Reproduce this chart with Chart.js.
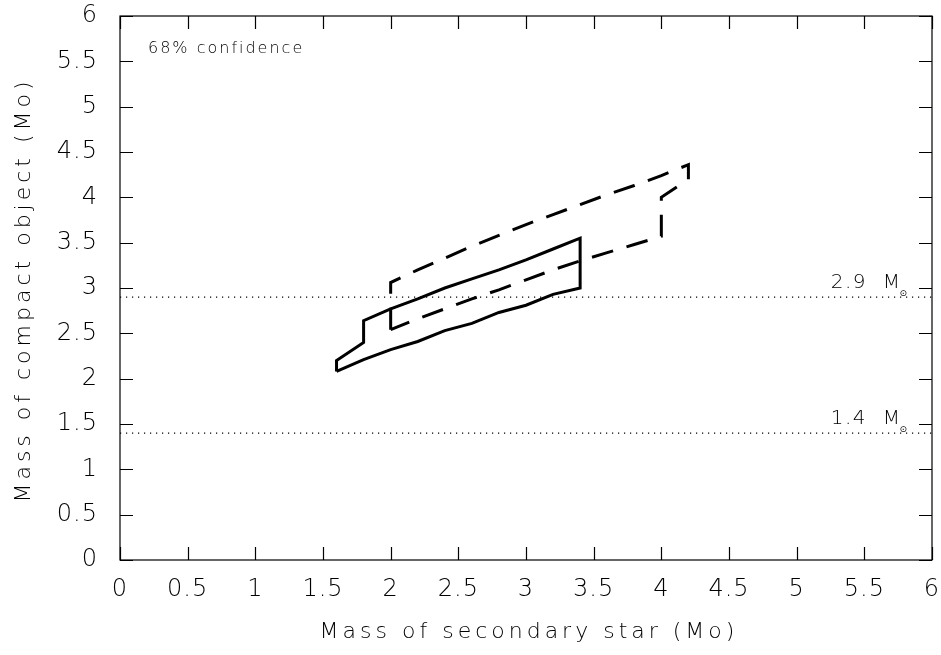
<!DOCTYPE html>
<html>
<head>
<meta charset="utf-8">
<script src="https://cdn.jsdelivr.net/npm/chart.js@4"></script>
<style>
  html, body { margin: 0; padding: 0; background: #fff; }
  #wrap { width: 941px; height: 655px; }
</style>
</head>
<body>
<div id="wrap"><canvas id="massChart"></canvas></div>
<script>
// Contour 68% (trait plein)
const solidX = [1.6, 1.6, 1.8, 1.8, 2.0, 2.2, 2.4, 2.6, 2.8, 3.0, 3.2, 3.4, 3.4, 3.2, 3.0, 2.8, 2.6, 2.4, 2.2, 2.0, 1.8, 1.6];
const solidY = [2.08, 2.2, 2.4, 2.64, 2.77, 2.88, 3.0, 3.1, 3.2, 3.31, 3.43, 3.55, 3.0, 2.93, 2.81, 2.73, 2.61, 2.53, 2.41, 2.32, 2.21, 2.08];

// Contour 68% (tirets)
const dashedX = [2.0, 2.0, 2.2, 2.4, 2.6, 2.8, 3.0, 3.2, 3.4, 3.6, 3.8, 4.0, 4.2, 4.2, 4.0, 4.0, 3.8, 3.6, 3.4, 3.2, 3.0, 2.8, 2.6, 2.4, 2.2, 2.0];
const dashedY = [2.54, 3.06, 3.2, 3.33, 3.46, 3.58, 3.7, 3.81, 3.92, 4.03, 4.13, 4.24, 4.36, 4.2, 4.0, 3.57, 3.48, 3.39, 3.3, 3.2, 3.09, 2.98, 2.88, 2.77, 2.66, 2.54];

// Limites de masse (lignes pointillées)
const refLevels = [2.9, 1.4];
const refLabels = ['2.9', '1.4'];

const xTicks = [0, 0.5, 1, 1.5, 2, 2.5, 3, 3.5, 4, 4.5, 5, 5.5, 6];
const yTicks = [0, 0.5, 1, 1.5, 2, 2.5, 3, 3.5, 4, 4.5, 5, 5.5, 6];

const xTitle = 'Mass of secondary star (Mo)';
const yTitle = 'Mass of compact object (Mo)';
const noteText = '68% confidence';

const FONT = "'DejaVu Sans', sans-serif";
const WEIGHT = '200';

function toPoints(xs, ys) {
    return xs.map((x, i) => ({x: x, y: ys[i]}));
}

// espacement des lettres pour les graduations
const spacingPlugin = {
    id: 'spacing',
    beforeLayout(chart) { chart.ctx.letterSpacing = '1px'; },
    beforeDraw(chart) { chart.ctx.letterSpacing = '1px'; }
};

// Cadre + graduations intérieures + titres + annotations
const framePlugin = {
    id: 'frame',
    afterDraw(chart) {
        const ctx = chart.ctx;
        const a = chart.chartArea;
        const xs = chart.scales.x;
        const ys = chart.scales.y;
        const len = 13;
        ctx.save();
        ctx.strokeStyle = '#000';
        ctx.lineWidth = 1.2;
        ctx.strokeRect(a.left, a.top, a.right - a.left, a.bottom - a.top);
        ctx.beginPath();
        xTicks.forEach(v => {
            const px = Math.round(xs.getPixelForValue(v)) + 0.5;
            ctx.moveTo(px, a.bottom); ctx.lineTo(px, a.bottom - len);
            ctx.moveTo(px, a.top); ctx.lineTo(px, a.top + len);
        });
        yTicks.forEach(v => {
            const py = Math.round(ys.getPixelForValue(v)) + 0.5;
            ctx.moveTo(a.left, py); ctx.lineTo(a.left + len, py);
            ctx.moveTo(a.right, py); ctx.lineTo(a.right - len, py);
        });
        ctx.stroke();

        ctx.fillStyle = '#000';
        ctx.textBaseline = 'alphabetic';

        // titres des axes
        ctx.letterSpacing = '4px';
        ctx.font = WEIGHT + ' 22px ' + FONT;
        ctx.textAlign = 'center';
        ctx.fillText(xTitle, (a.left + a.right) / 2 + 3, 638);
        ctx.save();
        ctx.translate(30, (a.top + a.bottom) / 2 + 2);
        ctx.rotate(-Math.PI / 2);
        ctx.fillText(yTitle, 0, 0);
        ctx.restore();

        // texte "68% confidence"
        ctx.letterSpacing = '2px';
        ctx.font = WEIGHT + ' 16px ' + FONT;
        ctx.textAlign = 'left';
        ctx.fillText(noteText, a.left + 28, a.top + 37);

        // étiquettes des lignes de référence (M avec symbole solaire en indice)
        refLevels.forEach((lv, i) => {
            const py = ys.getPixelForValue(lv);
            const px = xs.getPixelForValue(5.775);
            ctx.letterSpacing = '1.5px';
            ctx.font = WEIGHT + ' 20px ' + FONT;
            ctx.textAlign = 'right';
            ctx.fillText(refLabels[i] + '  M', px, py - 9);
            ctx.letterSpacing = '0px';
            ctx.font = '9px ' + FONT;
            ctx.textAlign = 'left';
            ctx.fillText('\u2299', px - 2, py - 1);
        });
        ctx.restore();
    }
};

const ctx = document.getElementById('massChart').getContext('2d');

const datasets = [
    {
        data: toPoints(solidX, solidY),
        borderColor: '#000',
        borderWidth: 3,
        showLine: true,
        pointRadius: 0,
        tension: 0
    },
    {
        data: toPoints(dashedX, dashedY),
        borderColor: '#000',
        borderWidth: 3,
        borderDash: [22, 14],
        showLine: true,
        pointRadius: 0,
        tension: 0
    }
];
refLevels.forEach(lv => {
    datasets.push({
        data: [{x: 0, y: lv}, {x: 6, y: lv}],
        borderColor: '#000',
        borderWidth: 1.2,
        borderDash: [1.2, 4.8],
        showLine: true,
        pointRadius: 0
    });
});

new Chart(ctx, {
    type: 'scatter',
    data: { datasets: datasets },
    options: {
        responsive: true,
        maintainAspectRatio: false,
        animation: false,
        layout: { padding: { top: 16, right: 9, left: 0, bottom: 0 } },
        plugins: {
            legend: { display: false },
            tooltip: { enabled: false }
        },
        scales: {
            x: {
                type: 'linear',
                min: 0,
                max: 6,
                afterFit: s => { s.height = 95; s.paddingLeft = 0; s.paddingRight = 0; },
                afterBuildTicks: s => { s.ticks = xTicks.map(v => ({value: v})); },
                grid: { display: false, drawTicks: false },
                border: { display: false },
                ticks: {
                    color: '#000',
                    padding: 15,
                    maxRotation: 0,
                    callback: v => String(v),
                    font: { family: FONT, size: 24, weight: WEIGHT }
                },
                title: { display: false }
            },
            y: {
                type: 'linear',
                min: 0,
                max: 6,
                afterFit: s => { s.width = 120; s.paddingTop = 0; s.paddingBottom = 0; },
                afterBuildTicks: s => { s.ticks = yTicks.map(v => ({value: v})); },
                grid: { display: false, drawTicks: false },
                border: { display: false },
                ticks: {
                    color: '#000',
                    padding: 22,
                    callback: v => String(v),
                    font: { family: FONT, size: 24, weight: WEIGHT }
                },
                title: { display: false }
            }
        }
    },
    plugins: [spacingPlugin, framePlugin]
});
</script>
</body>
</html>
